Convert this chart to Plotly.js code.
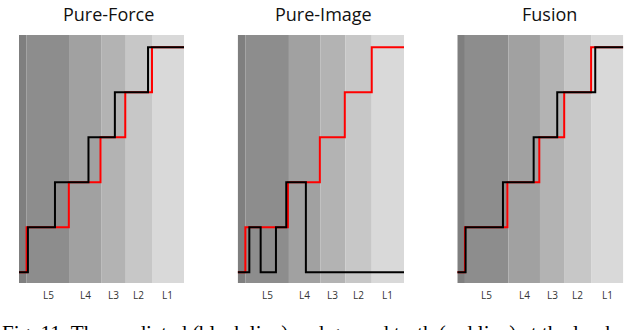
<!DOCTYPE html>
<html>
<head>
<meta charset="utf-8">
<script src="https://cdn.plot.ly/plotly-3.0.1.min.js"></script>
<style>
  body { margin: 0; background: white; }
  #chart { width: 640px; height: 330px; }
</style>
</head>
<body>
<div id="chart"></div>
<script>
// vertebral level bands (time units 0..100) and their labels
var bandEdges = [0, 4.6, 30.8, 49.8, 64.7, 80.6, 100];
var bandLabels = ["", "L5", "L4", "L3", "L2", "L1"];
var bandColors = ["#7f7f7f", "#8d8d8d", "#a1a1a1", "#b3b3b3", "#c7c7c7", "#d9d9d9"];

// ground truth (red) - step times and level
var truthX = [0, 4.6, 30.2, 49.4, 64.4, 80.6, 100];
var truthY = [0, 1, 2, 3, 4, 5, 5];

// predictions (black)
var forceX = [0, 5.4, 21.8, 42.1, 58.1, 78.2, 100];
var forceY = [0, 1, 2, 3, 4, 5, 5];

var imageX = [0, 7.0, 13.8, 23.0, 29.2, 41.0, 100];
var imageY = [0, 1, 0, 1, 2, 0, 0];

var fusionX = [0, 5.0, 27.5, 46.0, 60.2, 83.1, 100];
var fusionY = [0, 1, 2, 3, 4, 5, 5];

var panelTitles = ["Pure-Force", "Pure-Image", "Fusion"];

// panel positions in pixels (left, right) on the 640 wide page
var panelPx = [[19, 184], [237.7, 404], [457.3, 623.3]];
var titlePx = [108.7, 323.7, 549];

var W = 640, H = 330;
var plotTop = 35, plotBottom = 283;

function step_trace(x, y, color, axisIdx){
    var sfx = axisIdx == 1 ? "" : String(axisIdx);
    return {
        x: x, y: y,
        type: "scatter", mode: "lines",
        line: {shape: "hv", color: color, width: 2},
        xaxis: "x" + sfx, yaxis: "y" + sfx,
        hoverinfo: "skip", showlegend: false
    };
}

var traces = [];
var preds = [[forceX, forceY], [imageX, imageY], [fusionX, fusionY]];
for (var p = 0; p < 3; p++){
    traces.push(step_trace(truthX, truthY, "#ff0000", p + 1));
    traces.push(step_trace(preds[p][0], preds[p][1], "#000000", p + 1));
}

var layout = {
    width: W, height: H,
    margin: {l: 0, r: 0, t: 0, b: 0},
    paper_bgcolor: "white",
    plot_bgcolor: "white",
    showlegend: false,
    shapes: [],
    annotations: []
};

for (var p = 0; p < 3; p++){
    var sfx = p == 0 ? "" : String(p + 1);
    var ax = {
        domain: [panelPx[p][0] / W, panelPx[p][1] / W],
        range: [0, 100],
        showgrid: false, zeroline: false, showticklabels: false,
        ticks: "", showline: false, fixedrange: true
    };
    var ay = {
        domain: [1 - plotBottom / H, 1 - plotTop / H],
        range: [-0.24, 5.27],
        showgrid: false, zeroline: false, showticklabels: false,
        ticks: "", showline: false, fixedrange: true
    };
    if (p > 0) ay.anchor = "x" + sfx;
    if (p > 0) ax.anchor = "y" + sfx;
    layout["xaxis" + sfx] = ax;
    layout["yaxis" + sfx] = ay;

    // background bands
    for (var b = 0; b < bandColors.length; b++){
        layout.shapes.push({
            type: "rect", layer: "below",
            xref: "x" + sfx, yref: "y" + sfx + " domain",
            x0: bandEdges[b], x1: bandEdges[b + 1], y0: 0, y1: 1,
            fillcolor: bandColors[b], line: {width: 0}
        });
        if (bandLabels[b] != ""){
            layout.annotations.push({
                text: bandLabels[b], showarrow: false,
                xref: "x" + sfx, yref: "paper",
                x: (bandEdges[b] + bandEdges[b + 1]) / 2, xanchor: "center",
                y: 1 - 295 / H, yanchor: "middle",
                font: {family: "Open Sans", size: 10, color: "#333333"}
            });
        }
    }

    layout.annotations.push({
        text: panelTitles[p], showarrow: false,
        xref: "paper", yref: "paper",
        x: titlePx[p] / W, xanchor: "center",
        y: 1 - 1 / H, yanchor: "top", borderpad: 0,
        font: {family: "Open Sans", size: 18, color: "#111111"}
    });
}

// figure caption, cut off at the bottom edge like the original
layout.annotations.push({
    text: "Fig. 11. The predicted (black line) and ground truth (red line) at the lumbar",
    showarrow: false, xref: "paper", yref: "paper",
    x: 0, xanchor: "left", y: 1 - 319 / H, yanchor: "top",
    font: {family: "Liberation Serif", size: 21, color: "#000000"}
});

Plotly.newPlot("chart", traces, layout, {staticPlot: true, displayModeBar: false});
</script>
</body>
</html>
